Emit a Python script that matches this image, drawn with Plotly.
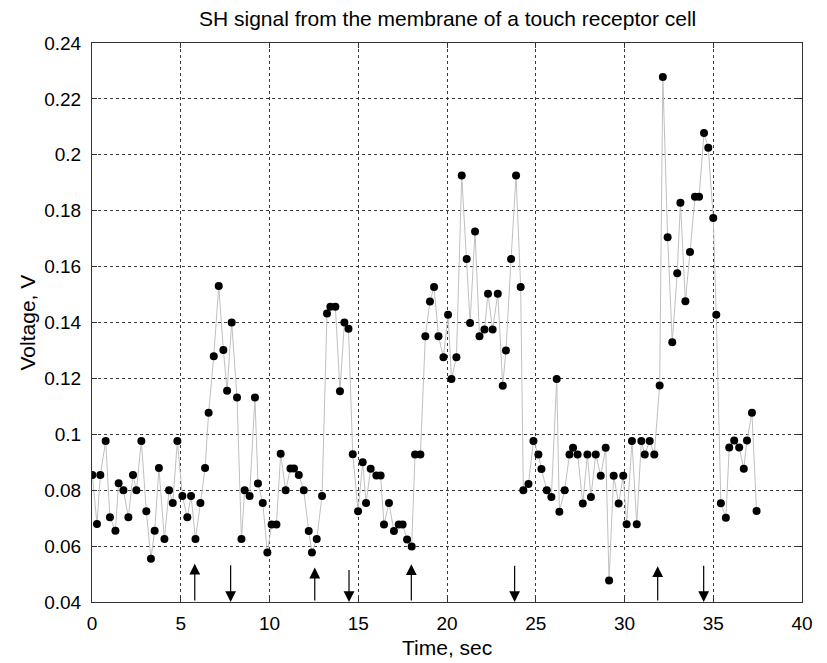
import plotly.graph_objects as go

# ---- data ----
time_s = [0.02, 0.28, 0.47, 0.77, 1.01, 1.32, 1.50, 1.77, 2.05, 2.31, 2.50, 2.78, 3.06, 3.32, 3.53, 3.77,
          4.08, 4.34, 4.55, 4.81, 5.09, 5.37, 5.58, 5.83, 6.11, 6.37, 6.57, 6.86, 7.14, 7.40, 7.61, 7.87,
          8.17, 8.42, 8.60, 8.88, 9.18, 9.35, 9.62, 9.88, 10.12, 10.39, 10.63, 10.91, 11.18, 11.38, 11.65,
          11.93, 12.21, 12.39, 12.66, 12.96, 13.24, 13.43, 13.71, 13.97, 14.22, 14.45, 14.69, 14.99, 15.25,
          15.44, 15.70, 16.02, 16.26, 16.45, 16.73, 17.01, 17.28, 17.50, 17.75, 18.01, 18.20, 18.50, 18.78,
          19.04, 19.27, 19.52, 19.80, 20.06, 20.25, 20.53, 20.83, 21.11, 21.30, 21.58, 21.83, 22.11, 22.31,
          22.57, 22.86, 23.14, 23.32, 23.61, 23.89, 24.15, 24.30, 24.59, 24.87, 25.15, 25.32, 25.62, 25.88,
          26.18, 26.33, 26.63, 26.90, 27.10, 27.36, 27.65, 27.91, 28.11, 28.38, 28.66, 28.94, 29.13, 29.39,
          29.67, 29.93, 30.12, 30.42, 30.69, 30.95, 31.14, 31.42, 31.68, 31.98, 32.16, 32.43, 32.69, 32.97,
          33.15, 33.43, 33.69, 33.97, 34.20, 34.48, 34.72, 35.00, 35.17, 35.43, 35.71, 35.90, 36.18, 36.46,
          36.72, 36.90, 37.18, 37.44]
voltage_v = [0.0854, 0.0679, 0.0854, 0.0976, 0.0703, 0.0655, 0.0825, 0.0800, 0.0703, 0.0854, 0.0800, 0.0976,
             0.0725, 0.0555, 0.0655, 0.0879, 0.0625, 0.0800, 0.0754, 0.0976, 0.0779, 0.0703, 0.0779, 0.0625,
             0.0754, 0.0879, 0.1077, 0.1279, 0.1531, 0.1302, 0.1156, 0.1400, 0.1132, 0.0625, 0.0800, 0.0779,
             0.1132, 0.0824, 0.0754, 0.0577, 0.0677, 0.0677, 0.0930, 0.0800, 0.0878, 0.0878, 0.0854, 0.0800,
             0.0654, 0.0577, 0.0625, 0.0779, 0.1432, 0.1456, 0.1456, 0.1154, 0.1400, 0.1378, 0.0929, 0.0725,
             0.0900, 0.0754, 0.0877, 0.0853, 0.0853, 0.0677, 0.0754, 0.0654, 0.0677, 0.0677, 0.0624, 0.0599,
             0.0928, 0.0928, 0.1351, 0.1475, 0.1527, 0.1351, 0.1276, 0.1428, 0.1198, 0.1276, 0.1926, 0.1627,
             0.1398, 0.1726, 0.1351, 0.1375, 0.1503, 0.1375, 0.1503, 0.1174, 0.1300, 0.1627, 0.1926, 0.1527,
             0.0800, 0.0822, 0.0976, 0.0928, 0.0876, 0.0800, 0.0776, 0.1198, 0.0723, 0.0800, 0.0928, 0.0952,
             0.0928, 0.0752, 0.0928, 0.0776, 0.0928, 0.0852, 0.0952, 0.0477, 0.0852, 0.0752, 0.0852, 0.0678,
             0.0976, 0.0678, 0.0976, 0.0928, 0.0976, 0.0928, 0.1175, 0.2278, 0.1705, 0.1329, 0.1576, 0.1828,
             0.1476, 0.1652, 0.1850, 0.1850, 0.2078, 0.2025, 0.1774, 0.1428, 0.0753, 0.0701, 0.0953, 0.0978,
             0.0953, 0.0877, 0.0978, 0.1077, 0.0726]

stim_on_times = [5.79, 12.55, 17.99, 31.87]      # upward arrows
stim_on_tops = [0.0537, 0.0523, 0.0535, 0.0528]
stim_off_times = [7.81, 14.48, 23.81, 34.46]     # downward arrows
stim_off_tops = [0.0537, 0.0520, 0.0535, 0.0535]

x_ticks = [0, 5, 10, 15, 20, 25, 30, 35, 40]
y_ticks = [0.04, 0.06, 0.08, 0.1, 0.12, 0.14, 0.16, 0.18, 0.2, 0.22, 0.24]
y_tick_labels = ["0.04", "0.06", "0.08", "0.1", "0.12", "0.14", "0.16", "0.18", "0.2", "0.22", "0.24"]

title_text = "SH signal from the membrane of a touch receptor cell"
x_title = "Time, sec"
y_title = "Voltage, V"

FONT = "Liberation Sans, Arial, sans-serif"

fig = go.Figure()
fig.add_trace(go.Scatter(
    x=time_s, y=voltage_v, mode="lines+markers",
    line=dict(color="#c0c0c0", width=1),
    marker=dict(color="black", size=8, line=dict(width=0)),
    showlegend=False, hoverinfo="skip",
))

annotations = []
for t, top in zip(stim_on_times, stim_on_tops):
    annotations.append(dict(x=t, y=top, ax=t, ay=0.04, xref="x", yref="y", axref="x", ayref="y",
                            showarrow=True, arrowhead=2, arrowsize=1.8, arrowwidth=1.2,
                            arrowcolor="black", standoff=0, text=""))
for t, top in zip(stim_off_times, stim_off_tops):
    annotations.append(dict(x=t, y=0.04, ax=t, ay=top, xref="x", yref="y", axref="x", ayref="y",
                            showarrow=True, arrowhead=2, arrowsize=1.8, arrowwidth=1.2,
                            arrowcolor="black", standoff=0, text=""))

annotations.append(dict(text=title_text, x=0.5, y=1, xref="paper", yref="paper",
                        xanchor="center", yanchor="middle", yshift=25, showarrow=False,
                        font=dict(family=FONT, size=21, color="black")))
annotations.append(dict(text=x_title, x=0.5, y=0, xref="paper", yref="paper",
                        xanchor="center", yanchor="middle", yshift=-45, showarrow=False,
                        font=dict(family=FONT, size=21, color="black")))
annotations.append(dict(text=y_title, x=0, y=0.5, xref="paper", yref="paper",
                        xanchor="center", yanchor="middle", xshift=-65, textangle=-90,
                        showarrow=False, font=dict(family=FONT, size=21, color="black")))

axis_common = dict(
    showgrid=True, gridcolor="#3a3a3a", gridwidth=1, griddash="3px,3px",
    showline=True, linecolor="#333333", linewidth=1, mirror="ticks",
    ticks="inside", ticklen=5, tickcolor="#333333",
    zeroline=False, tickfont=dict(family=FONT, size=19, color="black"),
)

# the page body has an 8px margin, so the figure is sized to fit the window
fig.update_layout(
    width=819, height=655,
    margin=dict(l=84, r=25, t=35, b=61),
    paper_bgcolor="white", plot_bgcolor="white",
    xaxis=dict(range=[0, 40], tickvals=x_ticks, ticklabelstandoff=4, **axis_common),
    yaxis=dict(range=[0.04, 0.24], tickvals=y_ticks, ticktext=y_tick_labels,
               ticklabelstandoff=6, **axis_common),
    annotations=annotations,
)

fig.write_html("out.html")
